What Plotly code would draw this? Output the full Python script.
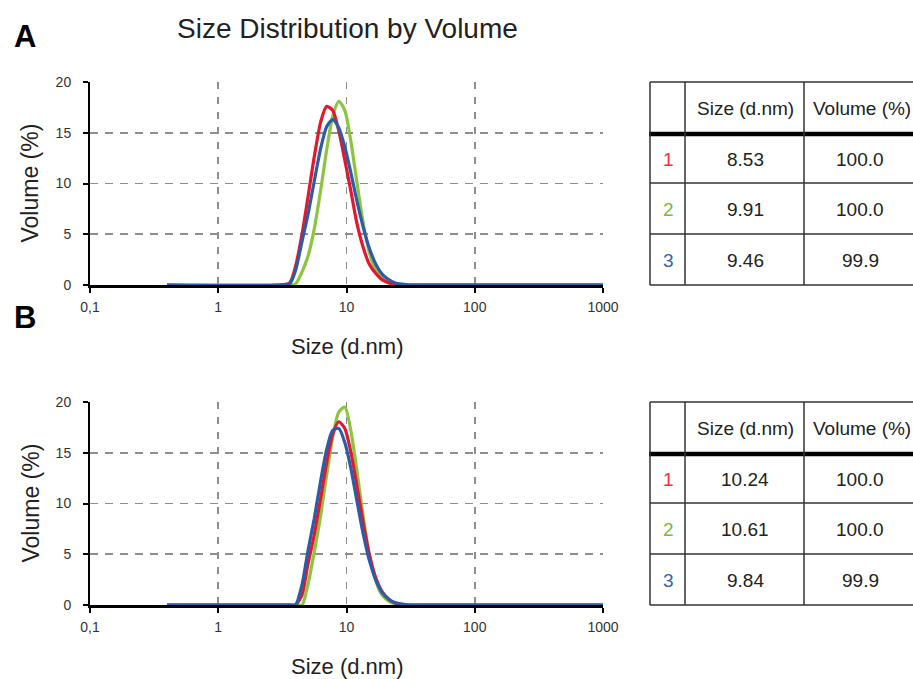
import plotly.graph_objects as go

W, H = 913, 679

# ---------------- data ----------------
sizes = [0.4, 3.0, 3.6, 4.0, 4.5, 5.0, 5.6, 6.3, 7.0, 7.8, 8.7, 9.7, 10.8, 12.0,
         13.5, 15.0, 17.0, 19.0, 21.5, 24.0, 27.0, 31.0, 36.0, 45.0, 1000]

a_red = [0, 0, 0.2, 1.8, 5.0, 8.6, 12.6, 16.1, 17.6, 17.2, 15.2, 12.3, 9.3, 6.2,
         3.7, 2.1, 1.1, 0.5, 0.2, 0.05, 0, 0, 0, 0, 0]
a_green = [0, 0, 0, 0.1, 1.3, 2.8, 5.5, 9.4, 13.3, 16.6, 18.1, 17.2, 14.2, 10.3,
           6.1, 3.3, 1.4, 0.6, 0.2, 0.05, 0, 0, 0, 0, 0]
a_blue = [0, 0, 0.1, 1.4, 4.3, 6.9, 10.2, 13.5, 15.6, 16.3, 15.5, 13.6, 11.1, 8.4,
          5.7, 3.7, 2.0, 1.05, 0.5, 0.2, 0.08, 0, 0, 0, 0]

b_red = [0, 0, 0, 0, 1.0, 4.0, 6.9, 10.6, 14.0, 16.8, 18.05, 17.4, 15.1, 11.9,
         8.1, 5.1, 2.6, 1.3, 0.55, 0.2, 0.06, 0, 0, 0, 0]
b_green = [0, 0, 0, 0, 0, 2.0, 5.2, 8.9, 12.8, 16.5, 19.0, 19.5, 17.2, 13.4,
           8.7, 5.1, 2.3, 0.95, 0.35, 0.1, 0, 0, 0, 0, 0]
b_blue = [0, 0, 0, 0, 2.0, 5.3, 8.5, 12.3, 15.3, 17.2, 17.4, 16.0, 13.5, 10.4,
          7.0, 4.5, 2.4, 1.2, 0.55, 0.22, 0.08, 0, 0, 0, 0]

x_tickvals = [0.1, 1, 10, 100, 1000]
x_ticktext = ["0,1", "1", "10", "100", "1000"]
y_tickvals = [0, 5, 10, 15, 20]

table_ids = ["1", "2", "3"]
table_header = ["Size (d.nm)", "Volume (%)"]
a_table_size = ["8.53", "9.91", "9.46"]
a_table_vol = ["100.0", "100.0", "99.9"]
b_table_size = ["10.24", "10.61", "9.84"]
b_table_vol = ["100.0", "100.0", "99.9"]

RED, GREEN, BLUE = "#E3172D", "#8CC43F", "#2D5BA7"
ID_COLORS = ["#E8333C", "#7DB840", "#3563AE"]

FONT = "Liberation Sans, Arial, sans-serif"


def px(x):
    return x / W


def py(y):
    return 1 - y / H


fig = go.Figure()

for (vals, color, xa, ya) in [
    (a_green, GREEN, "x", "y"), (a_red, RED, "x", "y"), (a_blue, BLUE, "x", "y"),
    (b_green, GREEN, "x2", "y2"), (b_red, RED, "x2", "y2"), (b_blue, BLUE, "x2", "y2"),
]:
    fig.add_trace(go.Scatter(
        x=sizes, y=vals, mode="lines", xaxis=xa, yaxis=ya,
        line=dict(color=color, width=3.2, shape="spline", smoothing=0.7),
        showlegend=False, hoverinfo="skip", cliponaxis=True))

X0, X1 = 90, 603
panels = [(82, 285), (402, 605)]

xcommon = dict(type="log", range=[-1, 3], domain=[px(X0), px(X1)],
               showline=True, linecolor="black", linewidth=2.5,
               ticks="outside", ticklen=5, tickwidth=2, tickcolor="black",
               tickvals=x_tickvals, ticktext=x_ticktext,
               tickfont=dict(size=14, color="#333", family=FONT),
               showgrid=True, gridcolor="#8e8e8e", gridwidth=1.8, griddash="7px,8px",
               zeroline=False, layer="below traces", ticklabelstandoff=3,
               fixedrange=True, automargin=False)
ycommon = dict(range=[0, 20], tickvals=y_tickvals,
               showline=True, linecolor="black", linewidth=2,
               ticks="outside", ticklen=5, tickwidth=2, tickcolor="black",
               tickfont=dict(size=14, color="#333", family=FONT),
               showgrid=True, gridcolor="#8e8e8e", gridwidth=1.8, griddash="8px,7px",
               zeroline=False, layer="below traces", ticklabelstandoff=9,
               fixedrange=True, automargin=False)

fig.update_layout(
    width=W, height=H, margin=dict(l=0, r=0, t=0, b=0, pad=0, autoexpand=False),
    paper_bgcolor="white", plot_bgcolor="white",
    font=dict(family=FONT, color="#222"),
    xaxis=dict(xcommon, anchor="y"),
    yaxis=dict(ycommon, anchor="x", domain=[py(panels[0][1]), py(panels[0][0])]),
    xaxis2=dict(xcommon, anchor="y2"),
    yaxis2=dict(ycommon, anchor="x2", domain=[py(panels[1][1]), py(panels[1][0])]),
)

ann = []


def text(x, y, s, size, color="#222", bold=False, angle=0):
    ann.append(dict(x=px(x), y=py(y), xref="paper", yref="paper", text=("<b>%s</b>" % s) if bold else s,
                    showarrow=False, xanchor="center", yanchor="middle", textangle=angle,
                    font=dict(size=size, color=color, family=FONT)))


text(347, 29, "Size Distribution by Volume", 28)
text(25, 36, "A", 31, color="black", bold=True)
text(25, 317, "B", 31, color="black", bold=True)
for (top, bot) in panels:
    text(30, (top + bot) / 2, "Volume (%)", 23, angle=-90)
    text(347, bot + 61, "Size (d.nm)", 22)

shapes = []


def hline(x0, x1, y, w, color="#333"):
    shapes.append(dict(type="line", xref="paper", yref="paper", x0=px(x0), x1=px(x1),
                       y0=py(y), y1=py(y), line=dict(color=color, width=w)))


def vline(x, y0, y1, w, color="#333"):
    shapes.append(dict(type="line", xref="paper", yref="paper", x0=px(x), x1=px(x),
                       y0=py(y0), y1=py(y1), line=dict(color=color, width=w)))


TL, TC1, TC2, TR = 650, 685, 804, 930
for (top, sizes_t, vols_t) in [(82, a_table_size, a_table_vol), (402, b_table_size, b_table_vol)]:
    head = top + 52
    r1 = head + 49
    r2 = r1 + 51
    bot = r2 + 51
    hline(TL, TR, top, 1.5)
    hline(TL - 1, TR, head, 4.5, "black")
    hline(TL, TR, r1, 1.5)
    hline(TL, TR, r2, 1.5)
    hline(TL, TR, bot, 1.5)
    for xv in (TL, TC1, TC2):
        vline(xv, top, bot, 1.5)
    text(745, (top + head) / 2, table_header[0], 19)
    text(862, (top + head) / 2, table_header[1], 19)
    rows = [(head, r1), (r1, r2), (r2, bot)]
    for i, (ra, rb) in enumerate(rows):
        cy = (ra + rb) / 2 + 1
        text(668, cy, table_ids[i], 19, color=ID_COLORS[i])
        text(745, cy, sizes_t[i], 19)
        text(860, cy, vols_t[i], 19)

fig.update_layout(annotations=ann, shapes=shapes)

fig.write_html(
    "out.html",
    config={"displayModeBar": False, "staticPlot": True},
    post_script="document.body.style.margin='0';document.body.style.overflow='hidden';",
)
